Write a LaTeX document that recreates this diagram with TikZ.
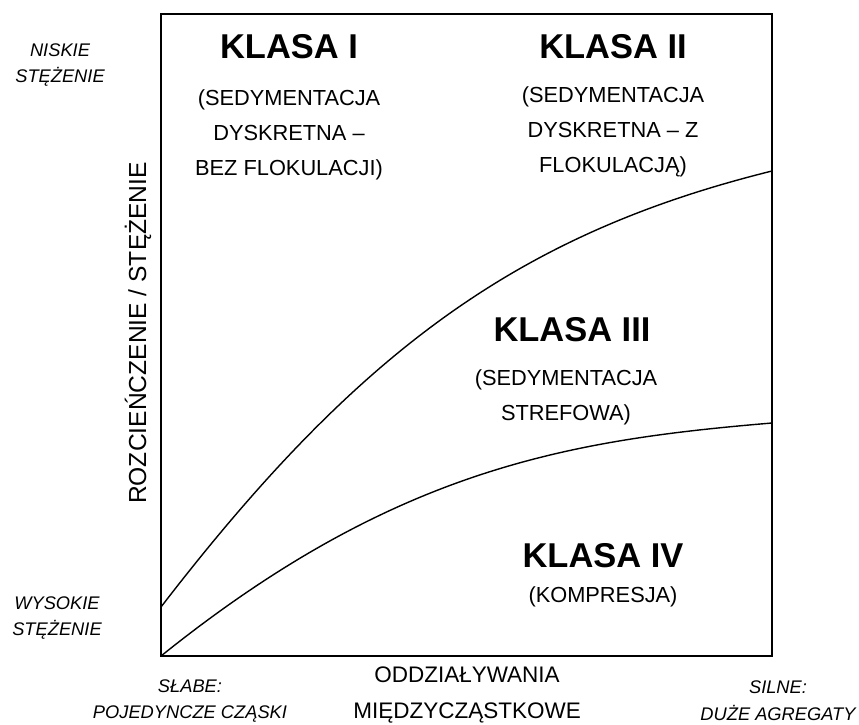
\documentclass[tikz,border=0pt]{standalone}
\usepackage{fontspec}
\setmainfont{Liberation Sans}
\tikzset{
  klasa/.style={font=\fontsize{24.5}{28}\selectfont\bfseries},
  opis/.style={font=\fontsize{15.5}{25}\selectfont, align=center},
  skraj/.style={font=\fontsize{13}{19}\selectfont\itshape, align=center},
  os/.style={font=\fontsize{16}{26}\selectfont, align=center},
  ramka/.style={line width=1.7pt},
  granica/.style={line width=1pt}
}
\begin{document}
\begin{tikzpicture}[x=0.025cm, y=-0.025cm]
  \useasboundingbox (0,0) rectangle (859,724);
  \coordinate (lg) at (161,14);
  \coordinate (pd) at (772,656);
  \coordinate (ld) at (161,656);
  \coordinate (a) at (161,607);
  \coordinate (b) at (772,171);
  \coordinate (c) at (772,423);
  \draw[ramka] (lg) rectangle (pd);
  \draw[granica] (a) .. controls (361,347) and (522,233) .. (b);
  \draw[granica] (ld) .. controls (395,468) and (570,440) .. (c);
  \node[klasa] (k1) at (289,47) {KLASA I};
  \node[opis] (o1) at (289,135) {(SEDYMENTACJA\\DYSKRETNA --\\BEZ FLOKULACJI)};
  \node[klasa] (k2) at (613,47) {KLASA II};
  \node[opis] (o2) at (613,132) {(SEDYMENTACJA\\DYSKRETNA -- Z\\FLOKULACJĄ)};
  \node[klasa] (k3) at (572,330) {KLASA III};
  \node[opis] (o3) at (566,397) {(SEDYMENTACJA\\STREFOWA)};
  \node[klasa] (k4) at (603,556) {KLASA IV};
  \node[opis] (o4) at (603,597) {(KOMPRESJA)};
  \node[skraj] (niskie) at (60,65) {NISKIE\\STĘŻENIE};
  \node[skraj] (wysokie) at (57,618) {WYSOKIE\\STĘŻENIE};
  \node[skraj] (slabe) at (190,701) {SŁABE:\\POJEDYNCZE CZĄSKI};
  \node[skraj] (silne) at (778,701) {SILNE:\\DUŻE AGREGATY};
  \node[os] (ox) at (467,695) {ODDZIAŁYWANIA\\MIĘDZYCZĄSTKOWE};
  \node[os, rotate=90, font=\fontsize{17.5}{20}\selectfont] (oy) at (138,333) {ROZCIEŃCZENIE / STĘŻENIE};
\end{tikzpicture}
\end{document}
